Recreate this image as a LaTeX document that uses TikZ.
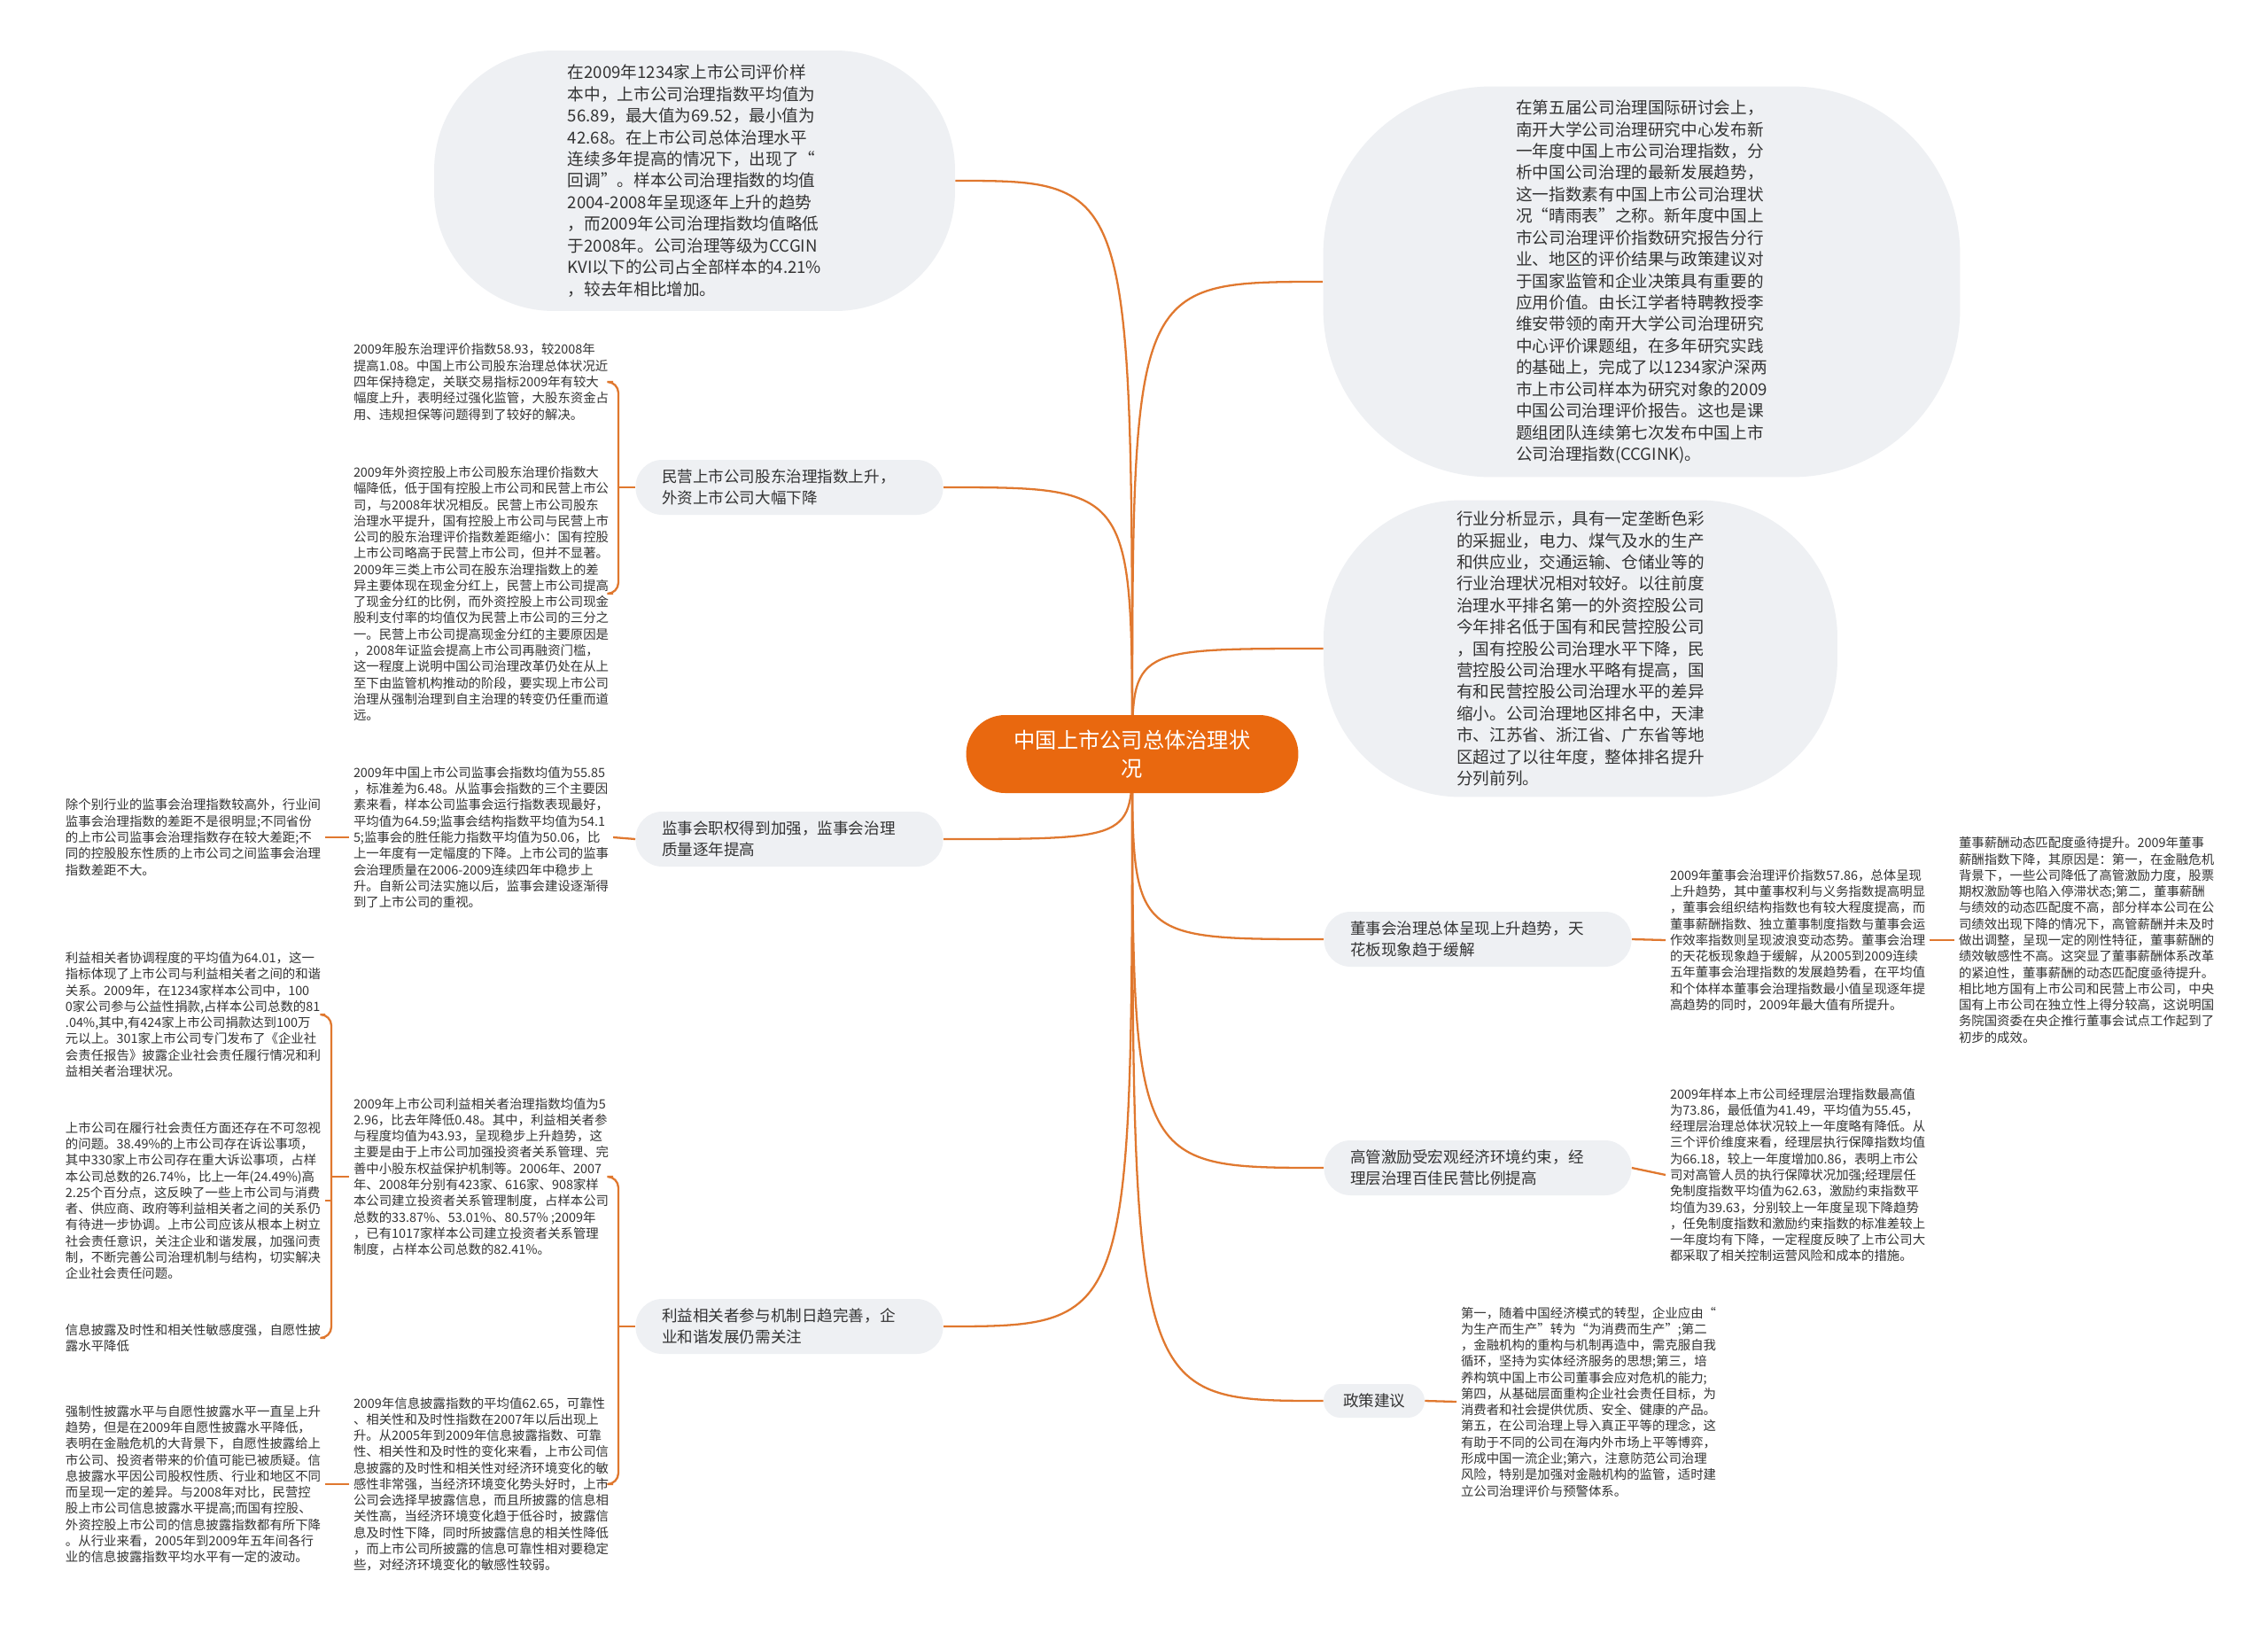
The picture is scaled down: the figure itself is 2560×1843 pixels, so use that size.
\documentclass[tikz,border=0pt]{standalone}
\usepackage{fontspec}
\setmainfont{Noto Sans CJK SC}
\usepackage{tikz}
\usetikzlibrary{backgrounds}
\definecolor{rootorange}{HTML}{E9680F}
\definecolor{linkorange}{HTML}{E0782F}
\definecolor{bubblegray}{HTML}{EEF0F3}
\definecolor{textgray}{HTML}{333333}

\begin{document}
\begin{tikzpicture}[x=0.02cm, y=-0.02cm,
  link/.style={draw=linkorange, line width=1.3pt},
  rootbox/.style={fill=rootorange, text=white, rounded corners=0.88cm, minimum width=7.5cm, minimum height=1.76cm, align=center, font=\fontsize{13.8}{18.5}\selectfont},
  topicbox/.style={fill=bubblegray, text=textgray, rounded corners=0.6cm, minimum height=1.24cm, text width=5.76cm, inner xsep=0.59cm, align=left, font=\fontsize{10}{13.9}\selectfont},
  notebox/.style={fill=bubblegray, text=textgray, align=left, font=\fontsize{10.6}{13.9}\selectfont},
  leaf/.style={text=textgray, align=left, inner sep=0pt, outer sep=0.1cm, anchor=west, font=\fontsize{8.2}{10.4}\selectfont}]
\useasboundingbox (0,0) rectangle (2560,1843);

% centre
\node[rootbox] (root) at (1278,851) {中国上市公司总体治理状\\况};

% big notes
\node[notebox, minimum width=11.76cm, minimum height=5.88cm, rounded corners=2.7cm] (tl) at (784,204) {在2009年1234家上市公司评价样\\本中，上市公司治理指数平均值为\\56.89，最大值为69.52，最小值为\\42.68。在上市公司总体治理水平\\连续多年提高的情况下，出现了“\\回调”。样本公司治理指数的均值\\2004-2008年呈现逐年上升的趋势\\，而2009年公司治理指数均值略低\\于2008年。公司治理等级为CCGIN\\KVI以下的公司占全部样本的4.21\%\\，较去年相比增加。};
\node[notebox, minimum width=14.38cm, minimum height=8.82cm, rounded corners=3.8cm] (tr) at (1853,318) {在第五届公司治理国际研讨会上，\\南开大学公司治理研究中心发布新\\一年度中国上市公司治理指数，分\\析中国公司治理的最新发展趋势，\\这一指数素有中国上市公司治理状\\况“晴雨表”之称。新年度中国上\\市公司治理评价指数研究报告分行\\业、地区的评价结果与政策建议对\\于国家监管和企业决策具有重要的\\应用价值。由长江学者特聘教授李\\维安带领的南开大学公司治理研究\\中心评价课题组，在多年研究实践\\的基础上，完成了以1234家沪深两\\市上市公司样本为研究对象的2009\\中国公司治理评价报告。这也是课\\题组团队连续第七次发布中国上市\\公司治理指数(CCGINK)。};
\node[notebox, minimum width=11.6cm, minimum height=6.7cm, rounded corners=3.1cm] (r2) at (1784,732) {行业分析显示，具有一定垄断色彩\\的采掘业，电力、煤气及水的生产\\和供应业，交通运输、仓储业等的\\行业治理状况相对较好。以往前度\\治理水平排名第一的外资控股公司\\今年排名低于国有和民营控股公司\\，国有控股公司治理水平下降，民\\营控股公司治理水平略有提高，国\\有和民营控股公司治理水平的差异\\缩小。公司治理地区排名中，天津\\市、江苏省、浙江省、广东省等地\\区超过了以往年度，整体排名提升\\分列前列。};

% topics
\node[topicbox] (l1) at (891,550) {民营上市公司股东治理指数上升，\\外资上市公司大幅下降};
\node[topicbox] (l2) at (891,947) {监事会职权得到加强，监事会治理\\质量逐年提高};
\node[topicbox] (l3) at (891,1497) {利益相关者参与机制日趋完善，企\\业和谐发展仍需关注};
\node[topicbox] (r3) at (1668,1060) {董事会治理总体呈现上升趋势，天\\花板现象趋于缓解};
\node[topicbox] (r4) at (1668,1318) {高管激励受宏观经济环境约束，经\\理层治理百佳民营比例提高};
\node[topicbox, text width=1.4cm, inner xsep=0.44cm, minimum height=0.76cm, rounded corners=0.38cm] (r5) at (1551,1581) {政策建议};

% leaves, left
\node[leaf] (l1a) at (394,431) {2009年股东治理评价指数58.93，较2008年\\提高1.08。中国上市公司股东治理总体状况近\\四年保持稳定，关联交易指标2009年有较大\\幅度上升，表明经过强化监管，大股东资金占\\用、违规担保等问题得到了较好的解决。};
\node[leaf] (l1b) at (394,670) {2009年外资控股上市公司股东治理价指数大\\幅降低，低于国有控股上市公司和民营上市公\\司，与2008年状况相反。民营上市公司股东\\治理水平提升，国有控股上市公司与民营上市\\公司的股东治理评价指数差距缩小：国有控股\\上市公司略高于民营上市公司，但并不显著。\\2009年三类上市公司在股东治理指数上的差\\异主要体现在现金分红上，民营上市公司提高\\了现金分红的比例，而外资控股上市公司现金\\股利支付率的均值仅为民营上市公司的三分之\\一。民营上市公司提高现金分红的主要原因是\\，2008年证监会提高上市公司再融资门槛，\\这一程度上说明中国公司治理改革仍处在从上\\至下由监管机构推动的阶段，要实现上市公司\\治理从强制治理到自主治理的转变仍任重而道\\远。};
\node[leaf] (l2a) at (394,945) {2009年中国上市公司监事会指数均值为55.85\\，标准差为6.48。从监事会指数的三个主要因\\素来看，样本公司监事会运行指数表现最好，\\平均值为64.59;监事会结构指数平均值为54.1\\5;监事会的胜任能力指数平均值为50.06，比\\上一年度有一定幅度的下降。上市公司的监事\\会治理质量在2006-2009连续四年中稳步上\\升。自新公司法实施以后，监事会建设逐渐得\\到了上市公司的重视。};
\node[leaf] (l2a1) at (69,945) {除个别行业的监事会治理指数较高外，行业间\\监事会治理指数的差距不是很明显;不同省份\\的上市公司监事会治理指数存在较大差距;不\\同的控股股东性质的上市公司之间监事会治理\\指数差距不大。};
\node[leaf] (l3a) at (394,1328) {2009年上市公司利益相关者治理指数均值为5\\2.96，比去年降低0.48。其中，利益相关者参\\与程度均值为43.93，呈现稳步上升趋势，这\\主要是由于上市公司加强投资者关系管理、完\\善中小股东权益保护机制等。2006年、2007\\年、2008年分别有423家、616家、908家样\\本公司建立投资者关系管理制度，占样本公司\\总数的33.87\%、53.01\%、80.57\% ;2009年\\，已有1017家样本公司建立投资者关系管理\\制度，占样本公司总数的82.41\%。};
\node[leaf] (l3a1) at (69,1145) {利益相关者协调程度的平均值为64.01，这一\\指标体现了上市公司与利益相关者之间的和谐\\关系。2009年，在1234家样本公司中，100\\0家公司参与公益性捐款,占样本公司总数的81\\.04\%,其中,有424家上市公司捐款达到100万\\元以上。301家上市公司专门发布了《企业社\\会责任报告》披露企业社会责任履行情况和利\\益相关者治理状况。};
\node[leaf] (l3a2) at (69,1355) {上市公司在履行社会责任方面还存在不可忽视\\的问题。38.49\%的上市公司存在诉讼事项，\\其中330家上市公司存在重大诉讼事项，占样\\本公司总数的26.74\%，比上一年(24.49\%)高\\2.25个百分点，这反映了一些上市公司与消费\\者、供应商、政府等利益相关者之间的关系仍\\有待进一步协调。上市公司应该从根本上树立\\社会责任意识，关注企业和谐发展，加强问责\\制，不断完善公司治理机制与结构，切实解决\\企业社会责任问题。};
\node[leaf] (l3a3) at (69,1510) {信息披露及时性和相关性敏感度强，自愿性披\\露水平降低};
\node[leaf] (l3b) at (394,1675) {2009年信息披露指数的平均值62.65，可靠性\\、相关性和及时性指数在2007年以后出现上\\升。从2005年到2009年信息披露指数、可靠\\性、相关性和及时性的变化来看，上市公司信\\息披露的及时性和相关性对经济环境变化的敏\\感性非常强，当经济环境变化势头好时，上市\\公司会选择早披露信息，而且所披露的信息相\\关性高，当经济环境变化趋于低谷时，披露信\\息及时性下降，同时所披露信息的相关性降低\\，而上市公司所披露的信息可靠性相对要稳定\\些，对经济环境变化的敏感性较弱。};
\node[leaf] (l3b1) at (69,1675) {强制性披露水平与自愿性披露水平一直呈上升\\趋势，但是在2009年自愿性披露水平降低，\\表明在金融危机的大背景下，自愿性披露给上\\市公司、投资者带来的价值可能已被质疑。信\\息披露水平因公司股权性质、行业和地区不同\\而呈现一定的差异。与2008年对比，民营控\\股上市公司信息披露水平提高;而国有控股、\\外资控股上市公司的信息披露指数都有所下降\\。从行业来看，2005年到2009年五年间各行\\业的信息披露指数平均水平有一定的波动。};

% leaves, right
\node[leaf] (r3a) at (1880,1061) {2009年董事会治理评价指数57.86，总体呈现\\上升趋势，其中董事权利与义务指数提高明显\\，董事会组织结构指数也有较大程度提高，而\\董事薪酬指数、独立董事制度指数与董事会运\\作效率指数则呈现波浪变动态势。董事会治理\\的天花板现象趋于缓解，从2005到2009连续\\五年董事会治理指数的发展趋势看，在平均值\\和个体样本董事会治理指数最小值呈现逐年提\\高趋势的同时，2009年最大值有所提升。};
\node[leaf] (r3a1) at (2206,1061) {董事薪酬动态匹配度亟待提升。2009年董事\\薪酬指数下降，其原因是：第一，在金融危机\\背景下，一些公司降低了高管激励力度，股票\\期权激励等也陷入停滞状态;第二，董事薪酬\\与绩效的动态匹配度不高，部分样本公司在公\\司绩效出现下降的情况下，高管薪酬并未及时\\做出调整，呈现一定的刚性特征，董事薪酬的\\绩效敏感性不高。这突显了董事薪酬体系改革\\的紧迫性，董事薪酬的动态匹配度亟待提升。\\相比地方国有上市公司和民营上市公司，中央\\国有上市公司在独立性上得分较高，这说明国\\务院国资委在央企推行董事会试点工作起到了\\初步的成效。};
\node[leaf] (r4a) at (1880,1326) {2009年样本上市公司经理层治理指数最高值\\为73.86，最低值为41.49，平均值为55.45，\\经理层治理总体状况较上一年度略有降低。从\\三个评价维度来看，经理层执行保障指数均值\\为66.18，较上一年度增加0.86，表明上市公\\司对高管人员的执行保障状况加强;经理层任\\免制度指数平均值为62.63，激励约束指数平\\均值为39.63，分别较上一年度呈现下降趋势\\，任免制度指数和激励约束指数的标准差较上\\一年度均有下降，一定程度反映了上市公司大\\都采取了相关控制运营风险和成本的措施。};
\node[leaf] (r5a) at (1644,1582) {第一，随着中国经济模式的转型，企业应由“\\为生产而生产”转为“为消费而生产”;第二\\，金融机构的重构与机制再造中，需克服自我\\循环，坚持为实体经济服务的思想;第三，培\\养构筑中国上市公司董事会应对危机的能力;\\第四，从基础层面重构企业社会责任目标，为\\消费者和社会提供优质、安全、健康的产品。\\第五，在公司治理上导入真正平等的理念，这\\有助于不同的公司在海内外市场上平等博弈，\\形成中国一流企业;第六，注意防范公司治理\\风险，特别是加强对金融机构的监管，适时建\\立公司治理评价与预警体系。};

\coordinate (br1) at (698,550);
\coordinate (br3) at (698,1497);
\coordinate (br4) at (374,1328);

\begin{scope}[on background layer]
\fill[white] (0,0) rectangle (2560,1843);
% main branches
\foreach \n in {tl,l1,l2,l3}
  \draw[link] (root.center) .. controls (root.center |- \n.east) and (root.center |- \n.east) .. (\n.east);
\foreach \n in {tr,r2,r3,r4,r5}
  \draw[link] (root.center) .. controls (root.center |- \n.west) and (root.center |- \n.west) .. (\n.west);
% brackets and stubs
\draw[link, rounded corners=0.25cm] (l1a.east) -| (br1) |- (l1b.east);
\draw[link] (br1) -- (l1.west);
\draw[link] (l2.west) -- (l2a.east);
\draw[link] (l2a.west) -- (l2a1.east);
\draw[link, rounded corners=0.25cm] (l3a.east) -| (br3) |- (l3b.east);
\draw[link] (br3) -- (l3.west);
\draw[link, rounded corners=0.25cm] (l3a1.east) -| (br4) |- (l3a3.east);
\draw[link] (l3a2.east) -- (l3a2.east -| br4);
\draw[link] (br4) -- (l3a.west);
\draw[link] (l3b.west) -- (l3b1.east);
\draw[link] (r3.east) -- (r3a.west);
\draw[link] (r3a.east) -- (r3a1.west);
\draw[link] (r4.east) -- (r4a.west);
\draw[link] (r5.east) -- (r5a.west);
\end{scope}
\end{tikzpicture}
\end{document}
